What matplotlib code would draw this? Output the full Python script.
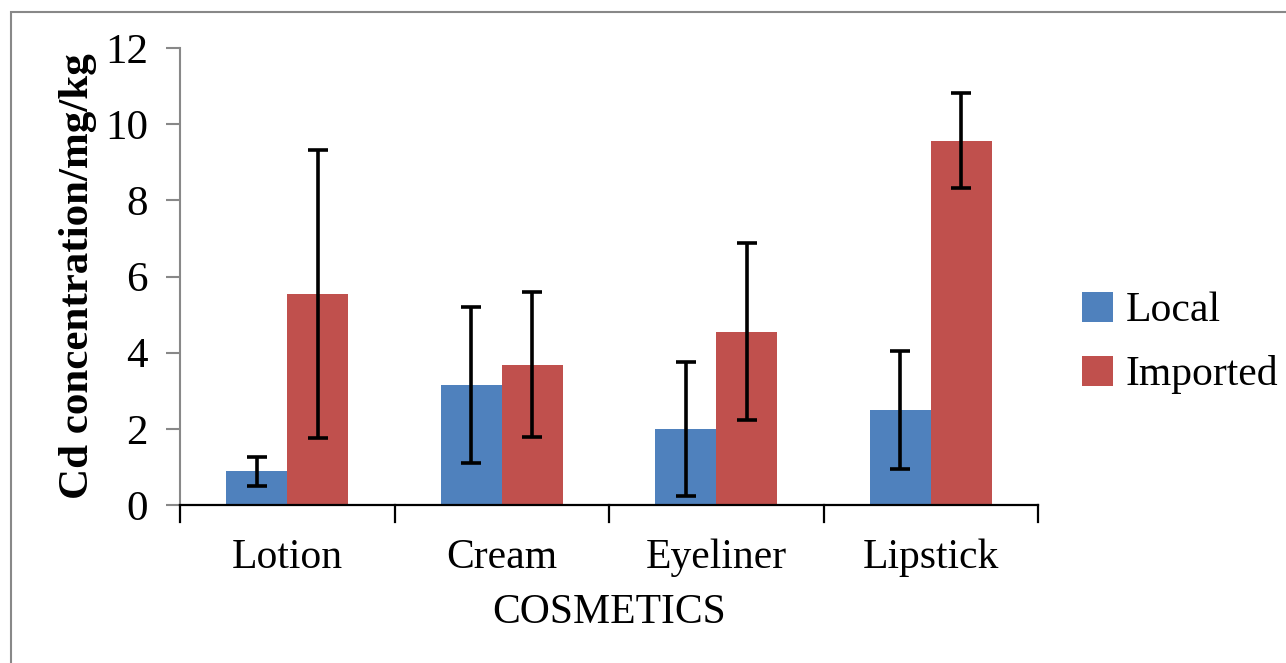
import matplotlib
matplotlib.use("Agg")
import matplotlib.pyplot as plt
from matplotlib.patches import Rectangle
import numpy as np

plt.rcParams['font.family'] = ['Liberation Serif', 'DejaVu Serif']

categories = ["Lotion", "Cream", "Eyeliner", "Lipstick"]
local_mean = [0.88, 3.15, 2.00, 2.49]
local_err = [0.39, 2.05, 1.76, 1.55]
imported_mean = [5.54, 3.68, 4.55, 9.57]
imported_err = [3.78, 1.90, 2.32, 1.24]
series_names = ["Local", "Imported"]
colors = ["#4F81BD", "#C0504D"]
yticks = [0, 2, 4, 6, 8, 10, 12]

fig = plt.figure(figsize=(12.86, 6.63), dpi=100)
fig.patches.append(Rectangle((11 / 1286, -0.1), 1.2, 1 - 12 / 663 + 0.1,
                             transform=fig.transFigure, fill=False,
                             edgecolor="#888888", linewidth=1.5))
ax = fig.add_axes([180 / 1286, 1 - 505 / 663, (1038 - 180) / 1286, (505 - 48) / 663])

x = np.arange(len(categories))
w = 0.285
err_kw = dict(ecolor="black", elinewidth=2.6, capsize=7, capthick=2.6)
ax.bar(x - w / 2, local_mean, w, color=colors[0], yerr=local_err,
       error_kw=err_kw, label=series_names[0], zorder=2)
ax.bar(x + w / 2, imported_mean, w, color=colors[1], yerr=imported_err,
       error_kw=err_kw, label=series_names[1], zorder=2)

ax.set_xlim(-0.5, len(categories) - 0.5)
ax.set_ylim(0, 12)
ax.set_yticks(yticks)
ax.set_yticklabels([str(t) for t in yticks], fontsize=31)
ax.set_xticks(x)
ax.set_xticklabels(categories, fontsize=30)
ax.tick_params(axis="x", length=0, pad=24)
ax.tick_params(axis="y", direction="out", length=10, width=1.5, color="#888888", pad=13)

# category boundary ticks on the x axis
for b in np.arange(-0.5, len(categories), 1.0):
    ax.plot([b, b], [0, -0.45], color="black", lw=1.6, clip_on=False)

for s in ["top", "right"]:
    ax.spines[s].set_visible(False)
ax.spines["left"].set_color("#888888")
ax.spines["left"].set_linewidth(1.5)
ax.spines["bottom"].set_color("black")
ax.spines["bottom"].set_linewidth(1.6)

ax.set_ylabel("Cd concentration/mg/kg", fontsize=31, fontweight="bold", labelpad=6)
ax.set_xlabel("COSMETICS", fontsize=30, labelpad=12)

leg = fig.legend(loc="center left", bbox_to_anchor=(1082 / 1286, 1 - 343 / 663),
                 frameon=False, fontsize=30, handlelength=0.75, handleheight=0.75,
                 handletextpad=0.3, labelspacing=0.6, borderpad=0, borderaxespad=0)

fig.savefig("out.png", dpi=100)
